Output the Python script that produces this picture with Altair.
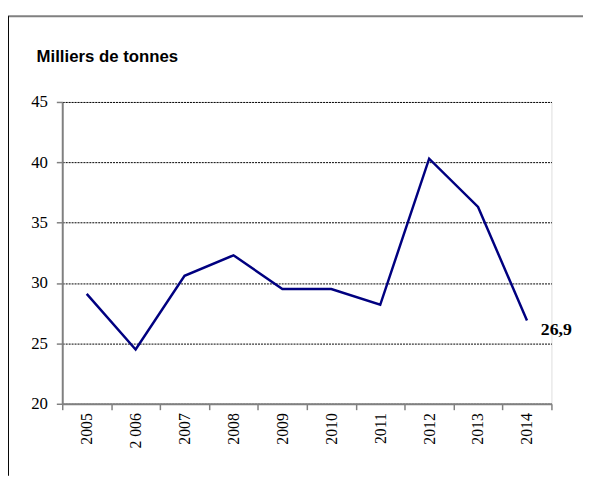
import altair as alt
import pandas as pd

years = ["2005", "2 006", "2007", "2008", "2009", "2010", "2011", "2012", "2013", "2014"]
values = [29.1, 24.5, 30.6, 32.3, 29.5, 29.5, 28.2, 40.3, 36.3, 26.9]
y_ticks = [20, 25, 30, 35, 40, 45]
title_text = "Milliers de tonnes"

df = pd.DataFrame({"year": years, "value": values})
df["label"] = ""
df.loc[df.index[-1], "label"] = f"{values[-1]:.1f}".replace(".", ",")

W, H = 496, 306
PAD = {"left": 55, "top": 92, "right": 32, "bottom": 73}

x_enc = alt.X(
    "year:N",
    sort=None,
    bandPosition=0.5,
    scale=alt.Scale(type="band", paddingInner=0, paddingOuter=0),
    axis=alt.Axis(
        title=None,
        grid=False,
        labelAngle=270,
        labelFont="Liberation Serif",
        labelFontSize=16,
        labelColor="black",
        labelPadding=3,
        tickBand="extent",
        tickSize=6,
        tickColor="#808080",
        tickWidth=1.5,
        domainColor="#808080",
        domainWidth=2,
        zindex=1,
    ),
)
y_enc = alt.Y(
    "value:Q",
    scale=alt.Scale(domain=[20, 45], nice=False, zero=False),
    axis=alt.Axis(
        title=None,
        values=y_ticks,
        grid=True,
        gridColor="black",
        gridDash=[2, 1],
        gridWidth=1,
        labelFont="Liberation Serif",
        labelFontSize=17,
        labelColor="black",
        labelPadding=9,
        tickSize=6,
        tickColor="#808080",
        tickWidth=1.5,
        domainColor="#808080",
        domainWidth=2,
    ),
)

base = alt.Chart(df)

line = base.mark_line(color="#000080", strokeWidth=2.5).encode(x=x_enc, y=y_enc)

label = base.mark_text(
    align="left", baseline="middle", dx=14, dy=10,
    font="Liberation Serif", fontSize=18, fontWeight="bold", color="black",
).encode(x=x_enc, y=y_enc, text="label:N")

one = alt.Data(values=[{"t": title_text}])
title = alt.Chart(one).mark_text(
    align="left", baseline="alphabetic",
    font="Liberation Sans", fontSize=17, fontWeight="bold", color="black",
).encode(x=alt.value(-26), y=alt.value(-41), text="t:N")

top_rule = alt.Chart(one).mark_rule(color="#808080", strokeWidth=2).encode(
    x=alt.value(-PAD["left"]), x2=alt.value(W + PAD["right"]), y=alt.value(-87)
)
left_rule = alt.Chart(one).mark_rule(color="black", strokeWidth=1).encode(
    x=alt.value(-PAD["left"] + 0.5), y=alt.value(-87), y2=alt.value(H + PAD["bottom"])
)

chart = (
    alt.layer(line, label, title, top_rule, left_rule)
    .properties(
        width=W,
        height=H,
        padding=PAD,
        autosize=alt.AutoSizeParams(type="none"),
    )
    .configure_view(stroke=None)
    .configure(background="white")
)

chart.save("out.html", embed_options={"renderer": "svg", "actions": False})
